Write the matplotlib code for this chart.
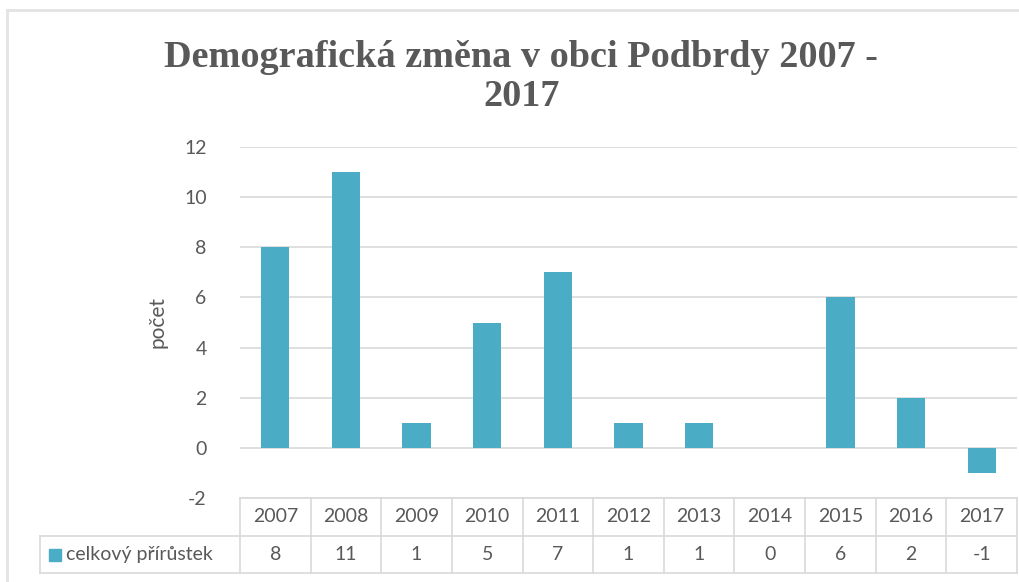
import matplotlib.pyplot as plt
from matplotlib.lines import Line2D
from matplotlib.patches import Rectangle

years = ['2007', '2008', '2009', '2010', '2011', '2012', '2013', '2014', '2015', '2016', '2017']
values = [8, 11, 1, 5, 7, 1, 1, 0, 6, 2, -1]
series_name = 'celkový přírůstek'
title = 'Demografická změna v obci Podbrdy 2007 -\n2017'
y_ticks = [-2, 0, 2, 4, 6, 8, 10, 12]

W, H = 1020, 582
BAR = '#4BACC6'
TXT = '#595959'
GRID = '#D9D9D9'
FONT = ['Lato', 'DejaVu Sans']


def fx(px):
    return px / W


def fy(py):
    return 1 - py / H


fig = plt.figure(figsize=(W / 100, H / 100), dpi=100, facecolor='white')

# chart border (top + left)
fig.add_artist(Line2D([fx(7), fx(1020)], [fy(10), fy(10)], color='#E3E3E3', lw=2))
fig.add_artist(Line2D([fx(7), fx(7)], [fy(10), fy(582)], color='#E3E3E3', lw=2))

x0, x1 = 240, 1017
ytop, ybot = 147, 498
ax = fig.add_axes([fx(x0), fy(ybot), fx(x1 - x0), (ybot - ytop) / H])
xs = list(range(len(years)))
ax.bar(xs, values, width=0.4, color=BAR, zorder=3)
ax.set_xlim(-0.5, len(years) - 0.5)
ax.set_ylim(-2, 12)
ax.set_yticks(y_ticks)
ax.set_yticklabels([str(t) for t in y_ticks], family=FONT, fontsize=14, color=TXT)
ax.set_xticks([])
ax.tick_params(axis='y', length=0, pad=24)
for s in ax.spines.values():
    s.set_visible(False)
ax.grid(axis='y', color=GRID, lw=1.2, zorder=0)
ax.set_ylabel('počet', family=FONT, fontsize=15, color=TXT, labelpad=12)

# title
fig.text(0.511, fy(77), title, ha='center', va='center', family=['Liberation Serif'],
         fontweight='bold', fontsize=27.5, color=TXT, linespacing=1.12)

# data table
r0, r1, r2 = 498, 536, 573
lc = dict(color=GRID, lw=1.2)
fig.add_artist(Line2D([fx(x0), fx(x1)], [fy(r0), fy(r0)], **lc))
fig.add_artist(Line2D([fx(40), fx(x1)], [fy(r1), fy(r1)], **lc))
fig.add_artist(Line2D([fx(40), fx(x1)], [fy(r2), fy(r2)], **lc))
fig.add_artist(Line2D([fx(40), fx(40)], [fy(r1), fy(r2)], **lc))
cw = (x1 - x0) / len(years)
for i in range(len(years) + 1):
    xp = x0 + i * cw
    fig.add_artist(Line2D([fx(xp), fx(xp)], [fy(r0), fy(r2)], **lc))
for i, (yr, v) in enumerate(zip(years, values)):
    cx = x0 + (i + 0.5) * cw
    fig.text(fx(cx), fy((r0 + r1) / 2), yr, ha='center', va='center', family=FONT, fontsize=14, color=TXT)
    fig.text(fx(cx), fy((r1 + r2) / 2), str(v), ha='center', va='center', family=FONT, fontsize=14, color=TXT)
fig.add_artist(Rectangle((fx(49), fy(561)), fx(12), 12 / H, color=BAR))
fig.text(fx(66), fy((r1 + r2) / 2), series_name, ha='left', va='center', family=FONT, fontsize=14, color=TXT)

fig.savefig('out.png', dpi=100, facecolor='white')
